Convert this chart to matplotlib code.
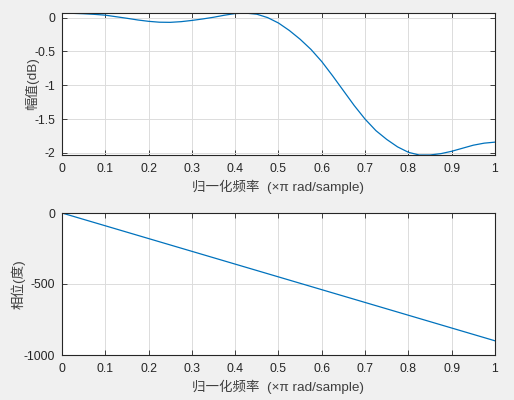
import matplotlib
matplotlib.use("Agg")
import matplotlib.pyplot as plt

# magnitude response (dB)
freq = [0, 0.025, 0.05, 0.075, 0.1, 0.125, 0.15, 0.175, 0.2, 0.225,
        0.25, 0.275, 0.3, 0.325, 0.35, 0.375, 0.4, 0.425, 0.45, 0.475,
        0.5, 0.525, 0.55, 0.575, 0.6, 0.625, 0.65, 0.675, 0.7, 0.725,
        0.75, 0.775, 0.8, 0.825, 0.85, 0.875, 0.9, 0.925, 0.95, 0.975, 1.0]
mag_db = [0.065, 0.063, 0.057, 0.048, 0.036, 0.013, -0.01, -0.035, -0.055, -0.068,
          -0.07, -0.06, -0.042, -0.02, 0.005, 0.035, 0.06, 0.066, 0.05, 0.0,
          -0.08, -0.19, -0.32, -0.47, -0.65, -0.86, -1.08, -1.30, -1.50, -1.67,
          -1.80, -1.91, -1.99, -2.03, -2.03, -2.01, -1.975, -1.93, -1.885, -1.855, -1.84]

# phase response (degrees)
freq_ph = [0, 0.1, 0.2, 0.3, 0.4, 0.5, 0.6, 0.7, 0.8, 0.9, 1.0]
phase_deg = [0, -90, -180, -270, -360, -450, -540, -630, -720, -810, -900]

plt.rcParams["font.family"] = ["Liberation Sans", "Noto Sans CJK SC"]
plt.rcParams["font.size"] = 8.8
plt.rcParams["axes.unicode_minus"] = False

line_col = "#0072BD"
text_col = "#262626"
label_col = "#404040"

fig = plt.figure(figsize=(5.14, 4.0), dpi=100, facecolor="#f0f0f0")
ax1 = fig.add_axes([0.1206, 0.6125, 0.8424, 0.355])
ax2 = fig.add_axes([0.1206, 0.1125, 0.8424, 0.355])

ax1.plot(freq, mag_db, color=line_col, lw=0.9)
ax1.set_ylim(-2.03, 0.068)
ax1.set_yticks([0, -0.5, -1, -1.5, -2])
ax1.set_yticklabels(["0", "-0.5", "-1", "-1.5", "-2"])
ax1.set_ylabel("幅值(dB)", color=label_col, fontsize=9.7)
ax1.yaxis.set_label_coords(-0.053, 0.5)

ax2.plot(freq_ph, phase_deg, color=line_col, lw=0.9)
ax2.set_ylim(-1000, 0)
ax2.set_yticks([0, -500, -1000])
ax2.set_ylabel("相位(度)", color=label_col, fontsize=9.7)
ax2.yaxis.set_label_coords(-0.084, 0.5)

xt = [0, 0.1, 0.2, 0.3, 0.4, 0.5, 0.6, 0.7, 0.8, 0.9, 1]
xtl = ["0", "0.1", "0.2", "0.3", "0.4", "0.5", "0.6", "0.7", "0.8", "0.9", "1"]
for ax in (ax1, ax2):
    ax.set_facecolor("white")
    ax.set_xlim(0, 1)
    ax.set_xticks(xt)
    ax.set_xticklabels(xtl)
    ax.set_xlabel("归一化频率  (×π rad/sample)", color=label_col, fontsize=9.7, labelpad=3)
    ax.grid(True, color="#dcdcdc", lw=0.7)
    ax.set_axisbelow(True)
    ax.tick_params(direction="in", length=3.5, width=0.6, colors=text_col,
                   top=True, right=True, labelsize=8.8)
    ax.tick_params(axis="x", pad=6)
    ax.tick_params(axis="y", pad=5)
    for s in ax.spines.values():
        s.set_color(text_col)
        s.set_linewidth(0.8)

fig.savefig("out.png", dpi=100, facecolor=fig.get_facecolor())
